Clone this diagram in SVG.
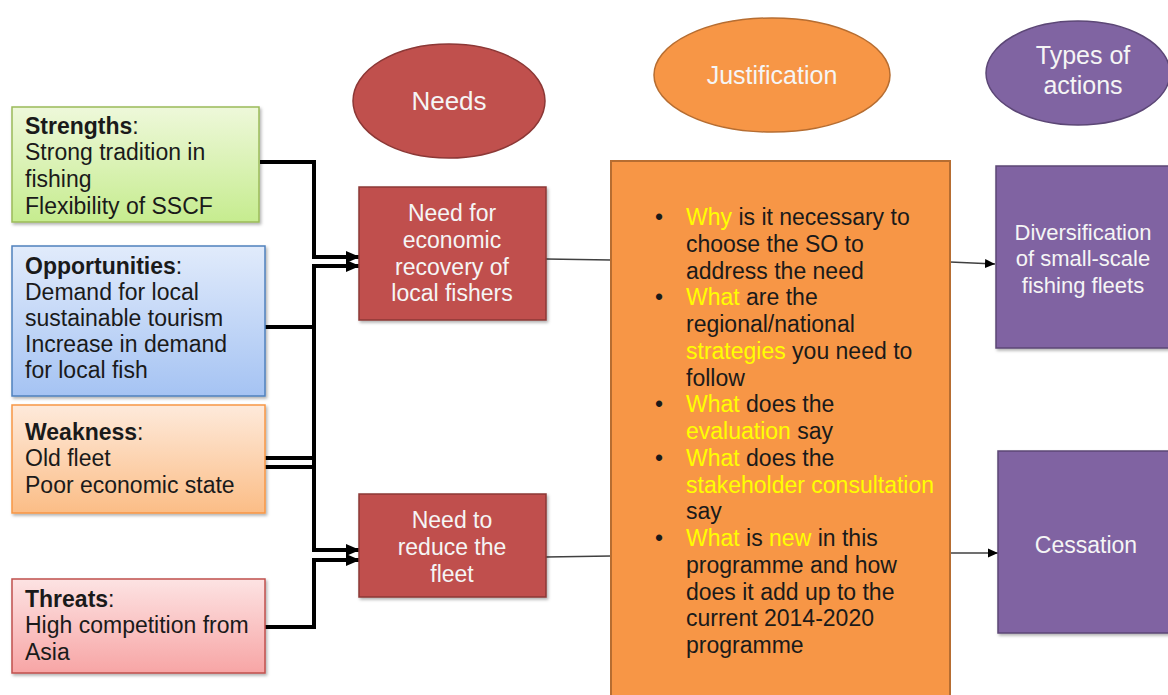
<svg xmlns="http://www.w3.org/2000/svg" width="1168" height="695" viewBox="0 0 1168 695">
<style>
  text { font-family: "Liberation Sans", Arial, sans-serif; }
  .swot { font-size: 23px; fill: #1a1a1a; }
  .b { font-weight: bold; }
  .wt { fill: #f5f5f5; text-anchor: middle; }
  .body { font-size: 23px; fill: #1a1a1a; }
  .hl { fill: #ffff00; }
  .conn { fill: none; stroke: #000; stroke-width: 4; }
  .thin { fill: none; stroke: #404040; stroke-width: 1.5; }
</style>
<defs>
  <linearGradient id="gG" x1="0" y1="0" x2="0" y2="1"><stop offset="0" stop-color="#eef8da"/><stop offset="1" stop-color="#c6ec8f"/></linearGradient>
  <linearGradient id="gB" x1="0" y1="0" x2="0" y2="1"><stop offset="0" stop-color="#e1ebfb"/><stop offset="1" stop-color="#a5c3f3"/></linearGradient>
  <linearGradient id="gO" x1="0" y1="0" x2="0" y2="1"><stop offset="0" stop-color="#feeadb"/><stop offset="1" stop-color="#fbbd86"/></linearGradient>
  <linearGradient id="gR" x1="0" y1="0" x2="0" y2="1"><stop offset="0" stop-color="#fde3e3"/><stop offset="1" stop-color="#f7a5a5"/></linearGradient>
  <filter id="sh" x="-10%" y="-10%" width="125%" height="125%"><feDropShadow dx="1.5" dy="2" stdDeviation="1.5" flood-color="#000" flood-opacity="0.3"/></filter>
  <marker id="ah" markerUnits="userSpaceOnUse" markerWidth="16" markerHeight="14" refX="14" refY="7" orient="auto"><path d="M0,1 L14,7 L0,13 Z" fill="#000"/></marker>
  <marker id="as" markerUnits="userSpaceOnUse" markerWidth="11" markerHeight="10" refX="10" refY="5" orient="auto"><path d="M0,0.5 L10,5 L0,9.5 Z" fill="#000"/></marker>
</defs>
<rect width="1168" height="695" fill="#fff"/>

<g id="connectors">
  <path class="conn" d="M260,162 H314 V257 H360" marker-end="url(#ah)"/>
  <path class="conn" d="M265,327 H314 V550"/>
  <path class="conn" d="M265,458 H314 V266 H360" marker-end="url(#ah)"/>
  <path class="conn" d="M265,467 H314 V550 H360" marker-end="url(#ah)"/>
  <path class="conn" d="M265,627 H314 V560 H360" marker-end="url(#ah)"/>
  <path class="thin" d="M546,259 L611,260"/>
  <path class="thin" d="M546,557 L611,556"/>
  <path class="thin" d="M950,262 L995,264" marker-end="url(#as)"/>
  <path class="thin" d="M950,553 L998,553" marker-end="url(#as)"/>
</g>

<g id="strengths">
  <rect x="12" y="107" width="247" height="115" fill="url(#gG)" stroke="#9bbb59" stroke-width="1.5" filter="url(#sh)"/>
  <text class="swot" x="25" y="134"><tspan class="b">Strengths</tspan>:</text>
  <text class="swot" x="25" y="160">Strong tradition in</text>
  <text class="swot" x="25" y="187">fishing</text>
  <text class="swot" x="25" y="214">Flexibility of SSCF</text>
</g>

<g id="opportunities">
  <rect x="12" y="246" width="253" height="150" fill="url(#gB)" stroke="#4f81bd" stroke-width="1.5" filter="url(#sh)"/>
  <text class="swot" x="25" y="274"><tspan class="b">Opportunities</tspan>:</text>
  <text class="swot" x="25" y="300">Demand for local</text>
  <text class="swot" x="25" y="326">sustainable tourism</text>
  <text class="swot" x="25" y="352">Increase in demand</text>
  <text class="swot" x="25" y="378">for local fish</text>
</g>

<g id="weakness">
  <rect x="12" y="405" width="253" height="108" fill="url(#gO)" stroke="#f79646" stroke-width="1.5" filter="url(#sh)"/>
  <text class="swot" x="25" y="440"><tspan class="b">Weakness</tspan>:</text>
  <text class="swot" x="25" y="466">Old fleet</text>
  <text class="swot" x="25" y="493">Poor economic state</text>
</g>

<g id="threats">
  <rect x="12" y="579" width="253" height="94" fill="url(#gR)" stroke="#c0504d" stroke-width="1.5" filter="url(#sh)"/>
  <text class="swot" x="25" y="607"><tspan class="b">Threats</tspan>:</text>
  <text class="swot" x="25" y="633">High competition from</text>
  <text class="swot" x="25" y="660">Asia</text>
</g>

<g id="needs-header">
  <ellipse cx="449" cy="101" rx="96" ry="57" fill="#c0504d" stroke="#8c3836" stroke-width="1.5"/>
  <text class="wt" x="449" y="110" font-size="26">Needs</text>
</g>

<g id="need1">
  <rect x="359" y="187" width="187" height="133" fill="#c0504d" stroke="#8c3836" stroke-width="1.5" filter="url(#sh)"/>
  <text class="wt" font-size="23" x="452" y="221">Need for</text>
  <text class="wt" font-size="23" x="452" y="248">economic</text>
  <text class="wt" font-size="23" x="452" y="275">recovery of</text>
  <text class="wt" font-size="23" x="452" y="301">local fishers</text>
</g>

<g id="need2">
  <rect x="359" y="494" width="187" height="103" fill="#c0504d" stroke="#8c3836" stroke-width="1.5" filter="url(#sh)"/>
  <text class="wt" font-size="23" x="452" y="528">Need to</text>
  <text class="wt" font-size="23" x="452" y="555">reduce the</text>
  <text class="wt" font-size="23" x="452" y="582">fleet</text>
</g>

<g id="justification-header">
  <ellipse cx="772" cy="75" rx="118" ry="57" fill="#f79646" stroke="#b66d31" stroke-width="1.5"/>
  <text class="wt" x="772" y="84" font-size="25">Justification</text>
</g>

<g id="justification">
  <rect x="611" y="161" width="339" height="560" fill="#f79646" stroke="#b66d31" stroke-width="2"/>
  <g class="body">
    <text x="655" y="225">•</text>
    <text x="655" y="305">•</text>
    <text x="655" y="412">•</text>
    <text x="655" y="466">•</text>
    <text x="655" y="546">•</text>
  </g>
  <text class="body" x="686" y="225"><tspan class="hl">Why</tspan> is it necessary to</text>
  <text class="body" x="686" y="251.75">choose the SO to</text>
  <text class="body" x="686" y="278.5">address the need</text>
  <text class="body" x="686" y="305.25"><tspan class="hl">What</tspan> are the</text>
  <text class="body" x="686" y="332">regional/national</text>
  <text class="body" x="686" y="358.75"><tspan class="hl">strategies</tspan> you need to</text>
  <text class="body" x="686" y="385.5">follow</text>
  <text class="body" x="686" y="412.25"><tspan class="hl">What</tspan> does the</text>
  <text class="body" x="686" y="439"><tspan class="hl">evaluation</tspan> say</text>
  <text class="body" x="686" y="465.75"><tspan class="hl">What</tspan> does the</text>
  <text class="body" x="686" y="492.5"><tspan class="hl">stakeholder consultation</tspan></text>
  <text class="body" x="686" y="519.25">say</text>
  <text class="body" x="686" y="546"><tspan class="hl">What</tspan> is <tspan class="hl">new</tspan> in this</text>
  <text class="body" x="686" y="572.75">programme and how</text>
  <text class="body" x="686" y="599.5">does it add up to the</text>
  <text class="body" x="686" y="626.25">current 2014-2020</text>
  <text class="body" x="686" y="653">programme</text>
</g>

<g id="actions-header">
  <ellipse cx="1078" cy="73" rx="92" ry="52" fill="#8064a2" stroke="#5c4776" stroke-width="1.5"/>
  <text class="wt" x="1083" y="64" font-size="25">Types of</text>
  <text class="wt" x="1083" y="94" font-size="25">actions</text>
</g>

<g id="diversification">
  <rect x="996" y="166" width="174" height="182" fill="#8064a2" stroke="#5c4776" stroke-width="1.5" filter="url(#sh)"/>
  <text class="wt" font-size="22" x="1083" y="240">Diversification</text>
  <text class="wt" font-size="22" x="1083" y="266">of small-scale</text>
  <text class="wt" font-size="22" x="1083" y="293">fishing fleets</text>
</g>

<g id="cessation">
  <rect x="998" y="451" width="172" height="182" fill="#8064a2" stroke="#5c4776" stroke-width="1.5" filter="url(#sh)"/>
  <text class="wt" font-size="23" x="1086" y="553">Cessation</text>
</g>
</svg>
